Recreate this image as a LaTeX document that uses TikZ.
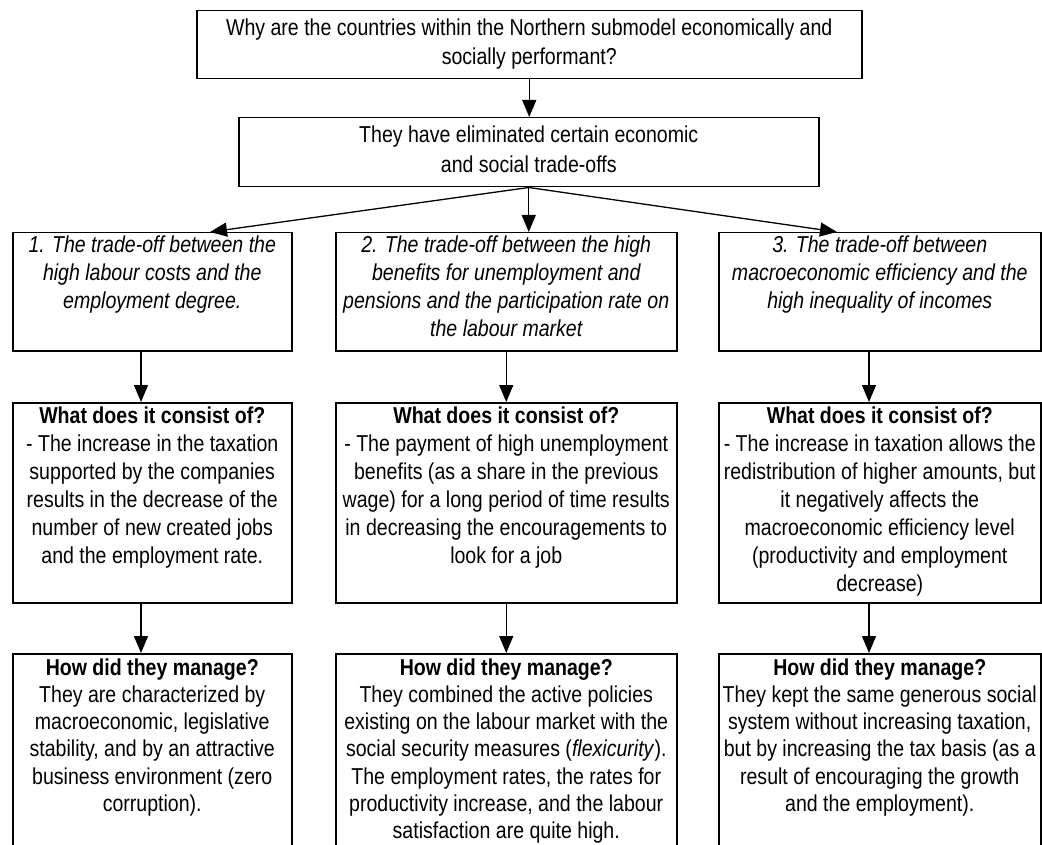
\documentclass[tikz,border=0pt]{standalone}
\usepackage{fontspec}
\setmainfont{Liberation Sans}[FakeStretch=0.85]
\usetikzlibrary{arrows.meta}
\begin{document}
\begin{tikzpicture}[x=1pt,y=-1pt,
  box/.style={draw=black, line width=1.5pt, inner sep=0pt, anchor=north west},
  txt/.style={inner sep=0pt, anchor=north, align=center, font=\fontsize{23pt}{28pt}\selectfont},
  arr/.style={line width=1.3pt, -{Triangle[length=17pt,width=14pt]}}]
\useasboundingbox (0,0) rectangle (1042,845);
\clip (0,0) rectangle (1042,845);
% boxes
\node[box, minimum width=665pt, minimum height=68pt] (q) at (196,10) {};
\node[box, minimum width=580pt, minimum height=69pt] (e) at (238,117) {};
\node[box, minimum width=279pt, minimum height=118pt] (l1) at (12,232) {};
\node[box, minimum width=341pt, minimum height=118pt] (m1) at (335,232) {};
\node[box, minimum width=322pt, minimum height=118pt] (r1) at (718,232) {};
\node[box, minimum width=279pt, minimum height=200pt] (l2) at (12,402) {};
\node[box, minimum width=341pt, minimum height=200pt] (m2) at (335,402) {};
\node[box, minimum width=322pt, minimum height=200pt] (r2) at (718,402) {};
\node[box, minimum width=279pt, minimum height=230pt] (l3) at (12,653) {};
\node[box, minimum width=341pt, minimum height=230pt] (m3) at (335,653) {};
\node[box, minimum width=322pt, minimum height=230pt] (r3) at (718,653) {};
% texts
\node[txt, font=\fontsize{23pt}{29pt}\selectfont] (qt) at ([yshift=-9pt]q.north) {Why are the countries within the Northern submodel economically and\\socially performant?};
\node[txt, font=\fontsize{23pt}{30pt}\selectfont] (et) at ([yshift=-9pt]e.north) {They have eliminated certain economic\\and social trade-offs};
\node[txt, font=\fontsize{23pt}{28pt}\selectfont\itshape] (l1t) at ([yshift=-3.5pt]l1.north) {1. The trade-off between the\\high labour costs and the\\employment degree.};
\node[txt, font=\fontsize{23pt}{28pt}\selectfont\itshape] (m1t) at ([yshift=-3.5pt]m1.north) {2. The trade-off between the high\\benefits for unemployment and\\pensions and the participation rate on\\the labour market};
\node[txt, font=\fontsize{23pt}{28pt}\selectfont\itshape] (r1t) at ([yshift=-3.5pt]r1.north) {3. The trade-off between\\macroeconomic efficiency and the\\high inequality of incomes};
\node[txt] (l2t) at ([yshift=-5pt]l2.north) {\textbf{What does it consist of?}\\- The increase in the taxation\\supported by the companies\\results in the decrease of the\\number of new created jobs\\and the employment rate.};
\node[txt] (m2t) at ([yshift=-5pt]m2.north) {\textbf{What does it consist of?}\\- The payment of high unemployment\\benefits (as a share in the previous\\wage) for a long period of time results\\in decreasing the encouragements to\\look for a job};
\node[txt] (r2t) at ([yshift=-5pt]r2.north) {\textbf{What does it consist of?}\\- The increase in taxation allows the\\redistribution of higher amounts, but\\it negatively affects the\\macroeconomic efficiency level\\(productivity and employment\\decrease)};
\node[txt, font=\fontsize{23pt}{27.2pt}\selectfont] (l3t) at ([yshift=-5.5pt]l3.north) {\textbf{How did they manage?}\\They are characterized by\\macroeconomic, legislative\\stability, and by an attractive\\business environment (zero\\corruption).};
\node[txt, font=\fontsize{23pt}{27.2pt}\selectfont] (m3t) at ([yshift=-5.5pt]m3.north) {\textbf{How did they manage?}\\They combined the active policies\\existing on the labour market with the\\social security measures (\textit{flexicurity}).\\The employment rates, the rates for\\productivity increase, and the labour\\satisfaction are quite high.};
\node[txt, font=\fontsize{23pt}{27.2pt}\selectfont] (r3t) at ([yshift=-5.5pt]r3.north) {\textbf{How did they manage?}\\They kept the same generous social\\system without increasing taxation,\\but by increasing the tax basis (as a\\result of encouraging the growth\\and the employment).};
% arrows
\draw[arr] (q.south) -- (q.south |- e.north);
\draw[arr] (e.south) -- ([xshift=198pt]l1.north west);
\draw[arr] (e.south) -- (e.south |- m1.north);
\draw[arr] (e.south) -- ([xshift=119pt]r1.north west);
\draw[arr] ([xshift=129pt]l1.south west) -- ([xshift=129pt]l2.north west);
\draw[arr] (m1.south) -- (m2.north);
\draw[arr] ([xshift=151pt]r1.south west) -- ([xshift=151pt]r2.north west);
\draw[arr] ([xshift=129pt]l2.south west) -- ([xshift=129pt]l3.north west);
\draw[arr] (m2.south) -- (m3.north);
\draw[arr] ([xshift=151pt]r2.south west) -- ([xshift=151pt]r3.north west);
\end{tikzpicture}
\end{document}
